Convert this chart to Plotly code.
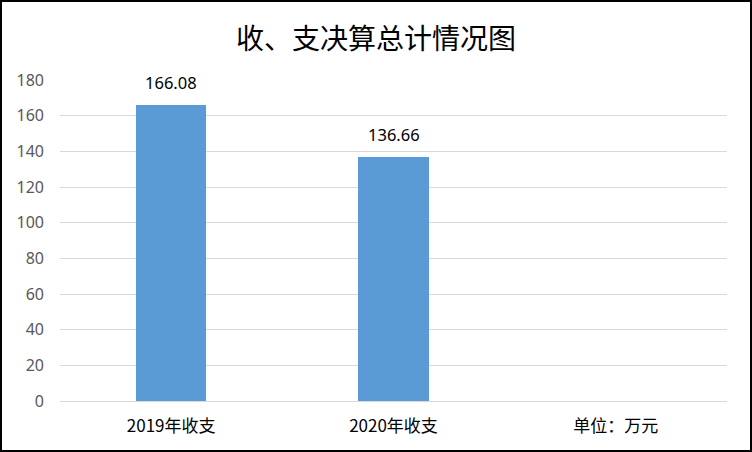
import plotly.graph_objects as go

categories = ["2019年收支", "2020年收支", "单位：万元"]
values = [166.08, 136.66, None]
labels = ["166.08", "136.66", ""]
y_ticks = [0, 20, 40, 60, 80, 100, 120, 140, 160, 180]

W, H = 752, 452
ml, mr, mt, mb = 60, 25, 80, 51
pw, ph = W - ml - mr, H - mt - mb

fig = go.Figure()
fig.add_trace(go.Bar(
    x=categories, y=values,
    marker=dict(color="#5B9BD5", line=dict(width=0)),
    width=0.315,
))
for c, v, t in zip(categories, values, labels):
    if v is not None:
        fig.add_annotation(x=c, y=v, text=t, showarrow=False, yanchor="bottom", yshift=9,
                           font=dict(size=16.5, color="#000000", family="Noto Sans, Liberation Sans, sans-serif"))
fig.update_layout(
    width=W, height=H,
    margin=dict(l=ml, r=mr, t=mt, b=mb),
    paper_bgcolor="white", plot_bgcolor="white",
    title=dict(text="收、支决算总计情况图", x=0.5, xanchor="center", y=1 - 39 / H, yanchor="middle",
               font=dict(size=28, color="#000000", family="Noto Sans CJK SC, sans-serif")),
    showlegend=False,
    bargap=0,
    font=dict(family="Noto Sans CJK SC, Liberation Sans, sans-serif"),
)
fig.update_yaxes(range=[0, 180], tickvals=y_ticks, showgrid=True, gridcolor="#D9D9D9", gridwidth=1,
                 zeroline=False, showline=False, ticks="", ticklabelstandoff=15,
                 tickfont=dict(size=16, color="#595959", family="Noto Sans, Liberation Sans, sans-serif"))
fig.update_xaxes(showline=True, linecolor="#D9D9D9", linewidth=1, ticks="", ticklabelstandoff=10,
                 tickfont=dict(size=17, color="#000000", family="Noto Sans CJK SC, sans-serif"))
fig.add_shape(type="rect", xref="paper", yref="paper",
              x0=-(ml - 1) / pw, x1=1 + (mr - 1) / pw, y0=-(mb - 1) / ph, y1=1 + (mt - 1) / ph,
              line=dict(color="#000000", width=2))
fig.write_html("out.html", config={"displayModeBar": False},
               post_script="document.body.style.margin='0';document.body.style.overflow='hidden';")
